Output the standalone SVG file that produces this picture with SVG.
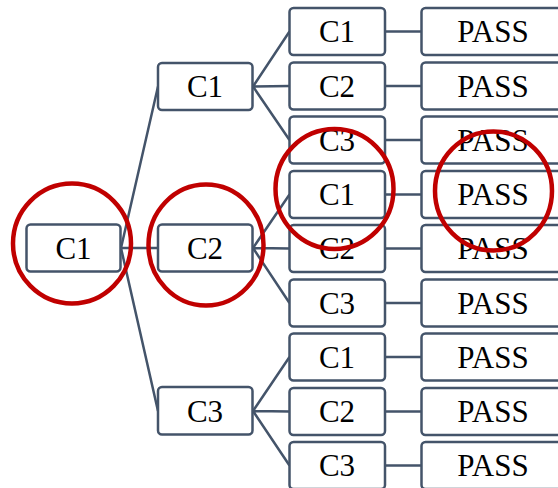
<svg xmlns="http://www.w3.org/2000/svg" width="558" height="488" viewBox="0 0 558 488">
<style>
.box{fill:#fff;stroke:#44546A;stroke-width:2.5}
.lbl{font-family:"Liberation Serif","Times New Roman",serif;font-size:31px;fill:#000;text-anchor:middle}
.ln{stroke:#44546A;stroke-width:2.5;fill:none}
.hl{fill:none;stroke:#C00000;stroke-width:4.5}
</style>
<rect width="558" height="488" fill="#fff"/>
<g id="connectors">
<path class="ln" d="M121 248 L158 86.5 M121 248 L158 248 M121 248 L158 411"/>
<path class="ln" d="M253 86.5 L289.5 31.5 M253 86.5 L289.5 86 M253 86.5 L289.5 140"/>
<path class="ln" d="M253 248 L289.5 194.5 M253 248 L289.5 248.5 M253 248 L289.5 303"/>
<path class="ln" d="M253 411 L289.5 357 M253 411 L289.5 411.5 M253 411 L289.5 465.5"/>
<path class="ln" d="M385 31.5 H421.5 M385 86 H421.5 M385 140 H421.5 M385 194.5 H421.5 M385 248.5 H421.5 M385 303 H421.5 M385 357 H421.5 M385 411.5 H421.5 M385 465.5 H421.5"/>
</g>
<g id="root"><rect class="box" x="26.5" y="224.5" width="94" height="47" rx="4"/><text class="lbl" x="73.5" y="258.5">C1</text></g>
<g id="m1"><rect class="box" x="158" y="63" width="94.5" height="47" rx="4"/><text class="lbl" x="205" y="97">C1</text></g>
<g id="m2"><rect class="box" x="158" y="224.5" width="94.5" height="47" rx="4"/><text class="lbl" x="205" y="258.5">C2</text></g>
<g id="m3"><rect class="box" x="158" y="387" width="94.5" height="47.5" rx="4"/><text class="lbl" x="205" y="421.5">C3</text></g>
<g id="l1"><rect class="box" x="289.5" y="8" width="95.5" height="47" rx="4"/><text class="lbl" x="337" y="42">C1</text></g>
<g id="l2"><rect class="box" x="289.5" y="62.5" width="95.5" height="47" rx="4"/><text class="lbl" x="337" y="96.5">C2</text></g>
<g id="l3"><rect class="box" x="289.5" y="116.5" width="95.5" height="47" rx="4"/><text class="lbl" x="337" y="150.5">C3</text></g>
<g id="l4"><rect class="box" x="289.5" y="171" width="95.5" height="47" rx="4"/><text class="lbl" x="337" y="205">C1</text></g>
<g id="l5"><rect class="box" x="289.5" y="225" width="95.5" height="47" rx="4"/><text class="lbl" x="337" y="259">C2</text></g>
<g id="l6"><rect class="box" x="289.5" y="279.5" width="95.5" height="47" rx="4"/><text class="lbl" x="337" y="313.5">C3</text></g>
<g id="l7"><rect class="box" x="289.5" y="333.5" width="95.5" height="47" rx="4"/><text class="lbl" x="337" y="367.5">C1</text></g>
<g id="l8"><rect class="box" x="289.5" y="388" width="95.5" height="47" rx="4"/><text class="lbl" x="337" y="422">C2</text></g>
<g id="l9"><rect class="box" x="289.5" y="442" width="95.5" height="47" rx="4"/><text class="lbl" x="337" y="476">C3</text></g>
<g id="p1"><rect class="box" x="421.5" y="8" width="143" height="47" rx="4"/><text class="lbl" x="493" y="42">PASS</text></g>
<g id="p2"><rect class="box" x="421.5" y="62.5" width="143" height="47" rx="4"/><text class="lbl" x="493" y="96.5">PASS</text></g>
<g id="p3"><rect class="box" x="421.5" y="116.5" width="143" height="47" rx="4"/><text class="lbl" x="493" y="150.5">PASS</text></g>
<g id="p4"><rect class="box" x="421.5" y="171" width="143" height="47" rx="4"/><text class="lbl" x="493" y="205">PASS</text></g>
<g id="p5"><rect class="box" x="421.5" y="225" width="143" height="47" rx="4"/><text class="lbl" x="493" y="259">PASS</text></g>
<g id="p6"><rect class="box" x="421.5" y="279.5" width="143" height="47" rx="4"/><text class="lbl" x="493" y="313.5">PASS</text></g>
<g id="p7"><rect class="box" x="421.5" y="333.5" width="143" height="47" rx="4"/><text class="lbl" x="493" y="367.5">PASS</text></g>
<g id="p8"><rect class="box" x="421.5" y="388" width="143" height="47" rx="4"/><text class="lbl" x="493" y="422">PASS</text></g>
<g id="p9"><rect class="box" x="421.5" y="442" width="143" height="47" rx="4"/><text class="lbl" x="493" y="476">PASS</text></g>
<g id="highlights">
<ellipse class="hl" cx="72" cy="243.5" rx="59" ry="60"/>
<ellipse class="hl" cx="206" cy="245" rx="57.5" ry="60.5"/>
<ellipse class="hl" cx="334.5" cy="189" rx="59" ry="60"/>
<ellipse class="hl" cx="493.5" cy="191" rx="58.5" ry="59.5"/>
</g>
</svg>
